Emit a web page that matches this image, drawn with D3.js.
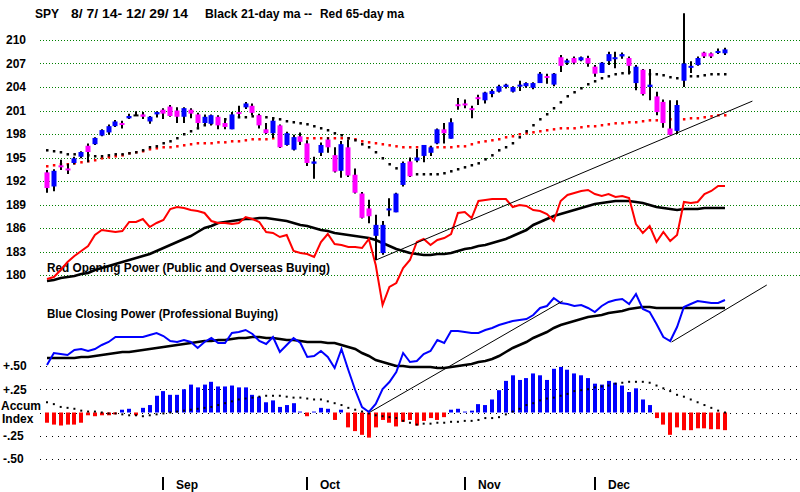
<!DOCTYPE html>
<html><head><meta charset="utf-8">
<script src="https://cdn.jsdelivr.net/npm/d3@7"></script>
<style>body{margin:0;background:#fff}svg{display:block}text{font-family:"Liberation Sans",Arial,sans-serif;font-weight:bold;font-size:12px;fill:#000}</style>
</head><body><svg id="c" width="800" height="492"></svg>
<script>
const dates = [
"8/7","8/8","8/11","8/12","8/13","8/14","8/15","8/18","8/19","8/20","8/21","8/22","8/25","8/26","8/27","8/28","8/29",
"9/2","9/3","9/4","9/5","9/8","9/9","9/10","9/11","9/12","9/15","9/16","9/17","9/18","9/19","9/22","9/23","9/24","9/25","9/26","9/29","9/30",
"10/1","10/2","10/3","10/6","10/7","10/8","10/9","10/10","10/13","10/14","10/15","10/16","10/17","10/20","10/21","10/22","10/23","10/24","10/27","10/28","10/29","10/30","10/31",
"11/3","11/4","11/5","11/6","11/7","11/10","11/11","11/12","11/13","11/14","11/17","11/18","11/19","11/20","11/21","11/24","11/25","11/26","11/28",
"12/1","12/2","12/3","12/4","12/5","12/8","12/9","12/10","12/11","12/12","12/15","12/16","12/17","12/18","12/19","12/22","12/23","12/24","12/26","12/29"];

const open = [193.1,191.3,194.0,193.6,194.3,195.1,196.5,196.7,197.8,198.2,
199.0,199.4,200.0,200.5,200.5,199.6,200.5,201.1,201.5,201.0,
200.2,201.1,200.5,199.4,199.3,200.2,199.4,198.6,200.8,201.4,
201.6,200.4,198.6,198.1,199.1,196.6,196.0,197.7,196.8,194.2,
195.6,197.3,195.3,193.3,196.3,192.8,190.4,188.5,185.0,182.8,
188.4,188.0,191.5,194.5,194.6,195.2,195.6,196.8,198.6,197.4,
201.8,201.9,201.3,202.7,202.3,203.1,203.4,204.0,203.4,204.2,
204.1,203.9,204.5,205.4,204.3,207.8,207.1,207.7,207.4,207.7,
206.6,205.8,207.3,207.6,207.9,207.7,204.5,206.2,204.0,202.8,
202.1,198.7,198.4,204.8,206.5,206.8,208.4,208.3,208.4,208.3];
const close = [191.1,193.3,193.8,193.4,194.9,195.7,195.7,197.5,198.5,199.0,
199.6,199.2,200.3,200.5,200.2,200.2,200.8,200.6,200.3,200.2,
201.3,200.6,199.4,200.2,200.4,199.1,198.9,200.5,200.6,201.9,
200.7,199.1,198.1,199.7,196.3,198.1,197.6,197.0,194.3,194.5,
196.6,196.3,193.2,196.7,192.7,190.5,187.3,187.5,186.4,186.4,
188.5,190.4,194.3,192.6,195.0,196.6,196.3,198.6,198.1,199.5,
201.6,201.7,201.1,202.5,203.3,203.5,204.1,204.3,204.0,204.3,
204.5,204.5,205.7,205.2,205.7,206.7,207.4,207.1,207.8,207.0,
205.7,207.1,208.2,207.8,208.2,206.7,206.6,203.1,204.3,200.8,
199.4,197.9,201.7,207.0,206.7,207.7,207.9,207.9,208.6,208.8];
const high = [193.4,193.5,194.7,194.2,195.1,195.8,196.8,197.6,198.6,199.2,
199.8,199.7,200.6,200.9,200.8,200.3,200.9,201.3,201.7,201.4,
201.4,201.3,200.7,200.5,200.5,200.4,200.0,200.8,201.6,202.1,
201.9,200.6,199.4,200.1,199.2,198.3,197.9,198.2,197.2,195.1,
196.9,197.6,196.3,197.1,197.3,193.6,190.6,189.6,187.7,186.9,
189.8,190.5,194.5,195.0,196.1,196.6,196.5,198.7,199.4,200.0,
202.6,202.4,201.6,203.0,203.4,203.7,204.3,204.4,204.1,204.8,
204.6,204.6,205.9,205.7,205.8,208.1,207.6,207.9,207.9,208.0,
206.8,207.2,208.5,208.5,208.4,207.9,206.8,206.3,206.3,203.4,
202.4,202.3,202.3,213.4,207.3,207.9,208.5,208.4,208.9,209.0];
const low = [190.5,190.7,193.4,192.9,194.1,194.9,194.4,196.6,197.7,197.9,
198.9,198.7,199.9,200.3,199.9,199.3,200.1,199.9,200.2,199.4,
199.4,200.0,198.9,199.1,199.1,198.6,198.6,198.6,200.3,201.2,
200.4,198.7,198.0,197.5,196.2,196.5,195.9,196.6,193.9,192.3,
195.2,195.6,193.1,192.4,192.5,190.4,187.2,186.6,181.9,182.6,
187.5,188.0,191.3,192.5,194.4,194.4,195.2,196.7,196.8,197.4,
201.1,201.3,200.0,201.7,201.9,202.7,203.3,203.8,203.3,203.5,
203.9,203.7,204.5,204.4,204.1,205.9,206.8,206.9,207.3,206.6,
205.3,205.8,206.8,206.4,207.6,205.6,203.6,202.9,202.3,200.4,
198.8,197.9,198.0,204.0,205.8,206.7,207.7,207.7,208.2,208.1];

const ma21 = [195.95,195.83,195.70,195.44,195.44,195.31,195.31,195.19,195.19,195.31,
195.44,195.44,195.57,195.70,195.95,196.34,196.46,196.85,197.10,197.49,
198.00,198.38,198.76,199.15,199.40,199.66,199.91,200.04,200.17,200.17,
200.29,200.29,200.17,200.04,199.91,199.66,199.53,199.40,199.27,199.02,
198.76,198.51,198.12,197.87,197.49,197.23,196.72,196.34,195.70,194.93,
194.17,193.65,193.27,193.02,192.89,192.89,192.89,192.89,193.02,193.27,
193.53,193.78,194.04,194.29,194.80,195.31,195.95,196.34,196.85,197.61,
198.38,199.15,199.91,200.55,201.32,202.08,202.85,203.36,203.87,204.38,
204.76,205.15,205.40,205.66,205.79,205.92,205.79,205.79,205.66,205.66,
205.53,205.28,205.15,205.28,205.40,205.40,205.53,205.66,205.66,205.66];
const ma65 = [193.91,194.04,194.17,194.17,194.29,194.42,194.55,194.68,194.93,195.06,
195.19,195.31,195.57,195.70,195.83,196.08,196.21,196.34,196.34,196.46,
196.59,196.72,196.85,196.85,196.85,196.97,196.97,197.10,197.10,197.23,
197.36,197.36,197.36,197.49,197.49,197.49,197.49,197.49,197.49,197.49,
197.49,197.49,197.49,197.49,197.49,197.36,197.10,196.97,196.85,196.72,
196.59,196.46,196.34,196.34,196.34,196.34,196.34,196.34,196.34,196.34,
196.46,196.46,196.72,196.97,197.10,197.23,197.36,197.61,197.74,198.00,
198.12,198.25,198.38,198.51,198.63,198.76,198.76,198.76,198.89,199.02,
199.02,199.15,199.27,199.40,199.40,199.53,199.53,199.66,199.78,199.78,
199.91,199.91,199.91,199.91,200.04,200.04,200.17,200.29,200.42,200.42];

const openingPower = [31,33,40,48,54,59,64,75,80,79,
78,79,88,88,91,83,87,90,101,103,
102,100,99,97,89,87,87,86,87,93,
91,88,78,77,73,75,59,57,56,53,
68,76,66,65,63,63,62,71,45,5,
23,27,42,50,68,71,65,70,72,76,
97,98,92,109,110,111,111,111,103,105,
104,100,99,96,89,109,115,117,119,120,
116,114,116,113,114,112,86,77,84,68,
78,69,75,108,107,108,116,119,124,124];
const openingPowerMA = [29,30,32,33,34,36,37,40,42,44,
46,48,50,52,54,56,59,62,65,68,
71,74,78,82,84,87,88,89,90,91,
91,92,92,91,90,89,87,85,84,82,
80,79,77,76,75,74,73,72,70,67,
64,61,59,57,56,55,55,56,56,57,
59,61,62,64,65,67,69,71,74,77,
80,85,88,91,94,96,98,100,102,104,
106,107,108,109,109,109,108,107,105,103,
102,101,100,101,101,101,102,102,102,102];

const closingPower = [15,27,26,25,30,31,29,31,35,38,
43,43,43,43,43,45,47,44,39,38,
40,38,32,38,42,37,37,47,48,50,
46,39,36,43,28,35,42,37,23,24,
29,23,12,31,10,-10,-27,-32,-24,-9,
-2,8,27,18,19,26,29,40,37,49,
49,48,47,47,50,52,55,57,59,60,
61,65,72,74,82,77,76,74,75,72,
68,74,78,80,81,76,86,71,68,56,
43,39,53,73,76,79,78,77,77,80];
const closingPowerMA = [22,22,22,22,22,23,23,24,25,26,
27,28,28,29,30,31,32,33,34,35,
36,37,38,39,39,40,40,41,42,42,
43,43,42,42,41,40,40,39,38,38,
38,37,37,35,33,31,27,24,20,18,
16,14,14,13,13,13,13,12,12,13,
14,15,16,18,19,21,24,28,32,35,
38,42,45,48,52,55,57,59,61,63,
64,65,67,68,69,71,72,73,73,72,
72,72,72,72,72,72,72,72,72,72];

const accumIndex = [-.11,-.13,-.14,-.13,-.13,-.11,-.03,-.04,-.03,-.03,
-.02,.03,.04,-.03,.05,.08,.18,.23,.19,.19,
.25,.30,.27,.30,.33,.28,.28,.29,.27,.27,
.19,.17,.11,.13,.06,.08,.10,.01,-.04,.01,
.05,.04,-.08,.03,-.16,-.20,-.24,-.27,-.16,-.08,
-.11,-.15,-.10,-.08,-.14,-.09,-.06,-.08,-.05,.03,
.04,.01,.02,.09,.08,.14,.24,.34,.40,.35,
.37,.42,.40,.35,.47,.49,.46,.42,.40,.37,
.31,.30,.34,.32,.29,.22,.26,.14,.08,-.06,
-.13,-.24,-.16,-.19,-.19,-.17,-.17,-.18,-.18,-.19];
const accumMA = [.11,.09,.06,.05,.04,.02,.01,.01,0,-.01,
-.01,-.02,-.03,-.03,-.04,-.03,-.02,-.01,0,.01,
.02,.03,.04,.05,.06,.08,.10,.12,.14,.15,
.16,.17,.18,.18,.18,.17,.16,.16,.15,.14,
.14,.12,.10,.08,.05,.03,.01,-.01,-.03,-.04,
-.05,-.06,-.09,-.11,-.13,-.12,-.12,-.11,-.11,-.10,
-.10,-.09,-.09,-.08,-.06,-.06,-.05,-.02,.01,.04,
.08,.10,.13,.15,.16,.18,.20,.23,.24,.25,
.27,.28,.29,.31,.32,.33,.33,.33,.32,.29,
.26,.23,.19,.17,.14,.11,.08,.05,.02,0];

const priceTicks = [210,207,204,201,198,195,192,189,186,183,180];
const accumTicks = [0.5,0.25,0,-0.25,-0.5];
const accumTickLabels = ["+.50","+.25","","-.25","-.50"];
const monthLabels = ["Sep","Oct","Nov","Dec"];
const monthFirstDates = ["9/2","10/1","11/3","12/1"];
// trend lines: [day index, value]
const trendPrice = [[48,181.9],[103,202.2]];
const trendCP1 = [[47.2,-32],[75.3,79]];
const trendCP2 = [[91.2,38],[105.1,95]];

const svg = d3.select("#c");
const n = dates.length;
const idx = d3.range(n);
const x = d3.scaleLinear().domain([0, n-1]).range([47, 725]);
const yP = d3.scaleLinear().domain([180,210]).range([275,40]);
const yOP = d3.scaleLinear().domain([0,130]).range([310,180]);
const yCP = d3.scaleLinear().domain([0,100]).range([380,280]);
const yA = d3.scaleLinear().domain([-0.5,0.5]).range([459,366]);

// grid lines
svg.append("g").selectAll("line").data(priceTicks).join("line")
  .attr("x1",40).attr("x2",800)
  .attr("y1",d=>Math.round(yP(d))+0.5).attr("y2",d=>Math.round(yP(d))+0.5)
  .attr("stroke","#008000").attr("stroke-dasharray","1,2");
svg.append("g").selectAll("line").data(accumTicks).join("line")
  .attr("x1",40).attr("x2",800)
  .attr("y1",d=>Math.round(yA(d))+0.5).attr("y2",d=>Math.round(yA(d))+0.5)
  .attr("stroke","#000").attr("stroke-dasharray","1,5");

// axes labels
const ax1 = svg.append("g").attr("transform","translate(27,0)")
  .call(d3.axisLeft(yP).tickValues(priceTicks).tickFormat(d3.format("d")).tickSize(0).tickPadding(1));
ax1.select(".domain").remove();
ax1.selectAll("text").attr("font-size",12).attr("font-family","Liberation Sans, Arial").attr("font-weight","bold").attr("fill","#000");
const ax2 = svg.append("g").attr("transform","translate(3,0)")
  .call(d3.axisLeft(yA).tickValues(accumTicks).tickFormat((d,i)=>accumTickLabels[i]).tickSize(0).tickPadding(0));
ax2.select(".domain").remove();
ax2.selectAll("text").attr("text-anchor","start").attr("x",0).attr("font-size",12)
  .attr("font-family","Liberation Sans, Arial").attr("font-weight","bold").attr("fill","#000");
svg.append("text").attr("x",1).attr("y",yA(0)-2.5).attr("font-size",11).text("Accum");
svg.append("text").attr("x",2).attr("y",yA(0)+10.5).attr("font-size",11).text("Index");

// title
svg.append("text").attr("x",35).attr("y",18).text("SPY");
svg.append("text").attr("x",71).attr("y",18).attr("textLength",117).attr("lengthAdjust","spacingAndGlyphs").text("8/ 7/ 14- 12/ 29/ 14");
svg.append("text").attr("x",205).attr("y",18).attr("textLength",107).attr("lengthAdjust","spacingAndGlyphs").text("Black 21-day ma --");
svg.append("text").attr("x",320).attr("y",18).attr("textLength",84).attr("lengthAdjust","spacingAndGlyphs").text("Red 65-day ma");

// panel labels
svg.append("text").attr("x",47).attr("y",272).attr("textLength",283).attr("lengthAdjust","spacingAndGlyphs").text("Red Opening Power (Public and Overseas Buying)");
svg.append("text").attr("x",47).attr("y",318).attr("textLength",231).attr("lengthAdjust","spacingAndGlyphs").text("Blue Closing Power (Professional Buying)");

// month axis
const monthIdx = monthFirstDates.map(d=>dates.indexOf(d));
const mg = svg.append("g");
mg.selectAll("rect").data(monthIdx).join("rect")
  .attr("x",d=>Math.round(x(d))-1).attr("y",477).attr("width",2).attr("height",13).attr("fill","#000");
mg.selectAll("text").data(monthIdx).join("text")
  .attr("x",d=>Math.round(x(d))+13).attr("y",489).text((d,i)=>monthLabels[i]);

// moving average dots on price
svg.append("g").selectAll("rect").data(idx).join("rect")
  .attr("x",i=>x(i)-1).attr("y",i=>yP(ma65[i])-1).attr("width",2.5).attr("height",2.5).attr("fill","#ff0000");
svg.append("g").selectAll("rect").data(idx).join("rect")
  .attr("x",i=>x(i)-1).attr("y",i=>yP(ma21[i])-1).attr("width",2.5).attr("height",2.5).attr("fill","#000");

// opening power
const lineOPMA = d3.line().x(i=>x(i)).y(i=>yOP(openingPowerMA[i]));
svg.append("path").attr("d",lineOPMA(idx)).attr("fill","none").attr("stroke","#000").attr("stroke-width",2.6);
const lineOP = d3.line().x(i=>x(i)).y(i=>yOP(openingPower[i]));
svg.append("path").attr("d",lineOP(idx)).attr("fill","none").attr("stroke","#ff0000").attr("stroke-width",2);

// candles
const cg = svg.append("g");
cg.selectAll("line").data(idx).join("line")
  .attr("x1",i=>Math.round(x(i))).attr("x2",i=>Math.round(x(i)))
  .attr("y1",i=>yP(high[i])).attr("y2",i=>yP(low[i]))
  .attr("stroke","#000").attr("stroke-width",2);
cg.selectAll("rect").data(idx).join("rect")
  .attr("x",i=>Math.round(x(i))-2.5).attr("width",5)
  .attr("y",i=>Math.min(yP(open[i]),yP(close[i])))
  .attr("height",i=>Math.max(2,Math.abs(yP(open[i])-yP(close[i]))))
  .attr("fill",i=>close[i]>open[i]?"#0000ff":(close[i]<open[i]?"#ff00ff":"#000"));

// accumulation bars
svg.append("g").selectAll("rect").data(idx).join("rect")
  .attr("x",i=>Math.round(x(i))-2).attr("width",4)
  .attr("y",i=>Math.min(yA(accumIndex[i]),yA(0)))
  .attr("height",i=>Math.abs(yA(accumIndex[i])-yA(0)))
  .attr("fill",i=>accumIndex[i]>=0?"#0000ff":"#ff0000");
svg.append("g").selectAll("rect").data(idx).join("rect")
  .attr("x",i=>x(i)-1).attr("y",i=>yA(accumMA[i])-1).attr("width",2).attr("height",2).attr("fill","#000");

// closing power
const lineCPMA = d3.line().x(i=>x(i)).y(i=>yCP(closingPowerMA[i]));
svg.append("path").attr("d",lineCPMA(idx)).attr("fill","none").attr("stroke","#000").attr("stroke-width",2.6);
const lineCP = d3.line().x(i=>x(i)).y(i=>yCP(closingPower[i]));
svg.append("path").attr("d",lineCP(idx)).attr("fill","none").attr("stroke","#0000ff").attr("stroke-width",2);

// trend lines
const tl = (pts, ys) => svg.append("line")
  .attr("x1",x(pts[0][0])).attr("y1",ys(pts[0][1])).attr("x2",x(pts[1][0])).attr("y2",ys(pts[1][1]))
  .attr("stroke","#000").attr("stroke-width",1);
tl(trendPrice, yP);
tl(trendCP1, yCP);
tl(trendCP2, yCP);
</script></body></html>
